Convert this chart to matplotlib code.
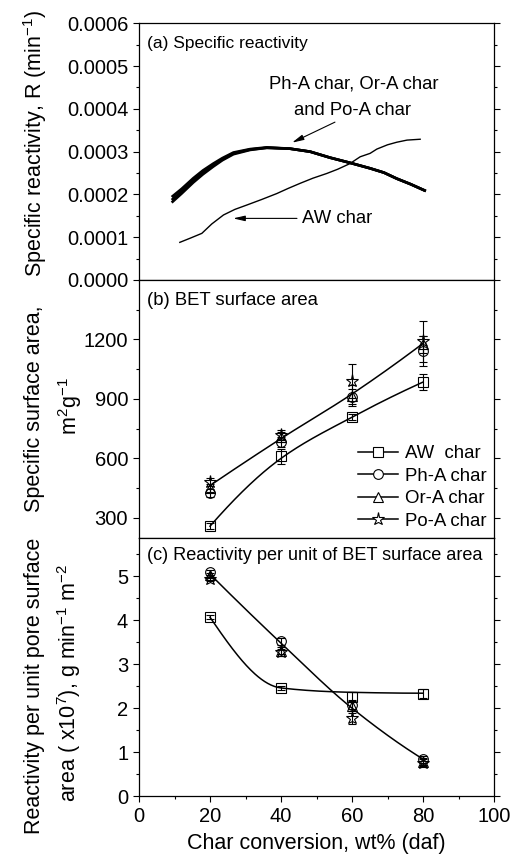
import numpy as np
import matplotlib
matplotlib.use("Agg")
import matplotlib.pyplot as plt
from matplotlib.lines import Line2D
from matplotlib.ticker import FormatStrFormatter

plt.rcParams['font.family'] = ['Liberation Sans', 'DejaVu Sans']
plt.rcParams['mathtext.fontset'] = 'custom'
plt.rcParams['mathtext.rm'] = 'Liberation Sans'
plt.rcParams['mathtext.it'] = 'Liberation Sans:italic'
plt.rcParams['mathtext.default'] = 'regular'

# ---------------- data ----------------
# (a) specific reactivity curves, R (min^-1) vs char conversion (wt%)
conv_acid = [9.2, 12, 15.3, 18, 20.9, 23.5, 26.6, 31.3, 36, 42.5, 48.2, 53.8, 59.4, 65.1, 69, 72.6, 76.5, 80.8]
r_ph = [0.000194, 0.000213, 0.000238, 0.000256, 0.000272, 0.000285, 0.000298, 0.000306, 0.000310, 0.000307, 0.000300, 0.000286, 0.000274, 0.000261, 0.000251, 0.000237, 0.000224, 0.000208]
r_or = [0.000187, 0.000207, 0.000233, 0.000251, 0.000268, 0.000282, 0.000296, 0.000305, 0.000309, 0.000307, 0.000300, 0.000286, 0.000274, 0.000261, 0.000251, 0.000237, 0.000224, 0.000208]
r_po = [0.000181, 0.000202, 0.000228, 0.000247, 0.000265, 0.000280, 0.000294, 0.000304, 0.000309, 0.000307, 0.000300, 0.000286, 0.000274, 0.000261, 0.000251, 0.000237, 0.000224, 0.000208]

conv_aw = [11.5, 14.5, 17.7, 20.5, 23.8, 27, 30.3, 34.5, 38.8, 42, 45.4, 49, 52.9, 56, 59.4, 62.3, 65.1, 67, 70, 72.6, 75.5, 79.2]
r_aw = [0.000088, 0.000098, 0.000109, 0.000131, 0.000152, 0.000165, 0.000175, 0.000188, 0.000202, 0.000214, 0.000226, 0.000238, 0.000249, 0.000259, 0.000272, 0.000288, 0.000296, 0.000306, 0.000316, 0.000322, 0.000327, 0.000329]

# (b) BET specific surface area (m2/g) and (c) reactivity per unit surface area
conversion = [20, 40, 60, 80]
series = ['AW  char', 'Ph-A char', 'Or-A char', 'Po-A char']
markers = ['s', 'o', '^', '*']

bet = {
    'AW  char':  [258, 611, 808, 985],
    'Ph-A char': [427, 683, 912, 1141],
    'Or-A char': [452, 708, 917, 1175],
    'Po-A char': [482, 716, 991, 1190],
}
bet_err = {
    'AW  char':  [14, 38, 15, 42],
    'Ph-A char': [20, 25, 40, 77],
    'Or-A char': [20, 25, 55, 45],
    'Po-A char': [20, 25, 85, 105],
}
bet_fit_aw = [258, 600, 808, 985]
bet_fit_acid = [463, 700, 925, 1180]

rps = {
    'AW  char':  [4.07, 2.46, 2.26, 2.33],
    'Ph-A char': [5.09, 3.52, 2.08, 0.84],
    'Or-A char': [5.02, 3.31, 2.04, 0.78],
    'Po-A char': [4.94, 3.27, 1.77, 0.76],
}
rps_err = {
    'AW  char':  [0.04, 0.04, 0.10, 0.10],
    'Ph-A char': [0.05, 0.08, 0.10, 0.08],
    'Or-A char': [0.05, 0.08, 0.10, 0.08],
    'Po-A char': [0.05, 0.08, 0.12, 0.08],
}
rps_fit_aw = [4.07, 2.46, 2.36, 2.34]
rps_fit_acid = [5.05, 3.48, 2.00, 0.84]

x_ticks = [0, 20, 40, 60, 80, 100]


def pchip(x, y, xn):
    """Shape-preserving piecewise cubic Hermite curve through (x, y)."""
    x = np.asarray(x, float)
    y = np.asarray(y, float)
    h = np.diff(x)
    d = np.diff(y) / h
    n = len(x)
    m = np.zeros(n)
    for k in range(1, n - 1):
        if d[k - 1] * d[k] <= 0:
            m[k] = 0.0
        else:
            w1 = 2 * h[k] + h[k - 1]
            w2 = h[k] + 2 * h[k - 1]
            m[k] = (w1 + w2) / (w1 / d[k - 1] + w2 / d[k])

    def end(h0, h1, d0, d1):
        s = ((2 * h0 + h1) * d0 - h0 * d1) / (h0 + h1)
        if np.sign(s) != np.sign(d0):
            s = 0.0
        elif np.sign(d0) != np.sign(d1) and abs(s) > abs(3 * d0):
            s = 3 * d0
        return s

    m[0] = end(h[0], h[1], d[0], d[1])
    m[-1] = end(h[-1], h[-2], d[-1], d[-2])
    xn = np.asarray(xn, float)
    idx = np.clip(np.searchsorted(x, xn) - 1, 0, n - 2)
    t = (xn - x[idx]) / h[idx]
    h00 = 2 * t**3 - 3 * t**2 + 1
    h10 = t**3 - 2 * t**2 + t
    h01 = -2 * t**3 + 3 * t**2
    h11 = t**3 - t**2
    return h00 * y[idx] + h10 * h[idx] * m[idx] + h01 * y[idx + 1] + h11 * h[idx] * m[idx + 1]


# ---------------- figure ----------------
W, H = 512, 856
fig = plt.figure(figsize=(W / 100, H / 100), dpi=100)
left, width = 139 / W, 355 / W
axa = fig.add_axes([left, 1 - 280 / H, width, 256.7 / H])
axb = fig.add_axes([left, 1 - 537.7 / H, width, 257.7 / H])
axc = fig.add_axes([left, 1 - 796 / H, width, 258.3 / H])

TICK_FS = 14.5
LABEL_FS = 15.5

for ax in (axa, axb, axc):
    ax.set_xlim(0, 100)
    for sp in ax.spines.values():
        sp.set_linewidth(0.9)
    ax.tick_params(axis='y', which='both', direction='out', left=True, right=True,
                   labelsize=TICK_FS, width=0.8, pad=3.5)
    ax.tick_params(axis='y', which='major', length=4.3)
    ax.tick_params(axis='y', which='minor', length=2.0)
    ax.set_xticks(x_ticks)
    ax.set_xticks([10, 30, 50, 70, 90], minor=True)

for ax in (axa, axb):
    ax.tick_params(axis='x', which='both', bottom=False, labelbottom=False)

axc.tick_params(axis='x', which='both', direction='out', labelsize=TICK_FS, width=0.8, pad=3.5)
axc.tick_params(axis='x', which='major', length=4.3)
axc.tick_params(axis='x', which='minor', length=2.0)

# ---- (a) specific reactivity ----
axa.set_ylim(0, 0.0006)
axa.set_yticks(np.arange(0, 0.00061, 0.0001))
axa.set_yticks(np.arange(0.00005, 0.0006, 0.0001), minor=True)
axa.yaxis.set_major_formatter(FormatStrFormatter('%.4f'))
for r in (r_ph, r_or, r_po):
    axa.plot(conv_acid, r, color='k', lw=1.9, solid_capstyle='butt')
axa.plot(conv_aw, r_aw, color='k', lw=1.0)
axa.text(0.0225, 0.923, '(a) Specific reactivity', transform=axa.transAxes,
         fontsize=12.5, ha='left', va='center')
axa.text(60.4, 0.000458, 'Ph-A char, Or-A char', fontsize=13.3, ha='center', va='center')
axa.text(60.1, 0.000396, 'and Po-A char', fontsize=13.3, ha='center', va='center')
arrow = dict(arrowstyle='-|>,head_length=0.7,head_width=0.16', color='k', lw=0.8,
             shrinkA=0, shrinkB=0)
axa.annotate('', xy=(43.1, 0.000321), xytext=(55.2, 0.000369), arrowprops=arrow)
axa.text(55.9, 0.000144, 'AW char', fontsize=13.3, ha='center', va='center')
axa.annotate('', xy=(26.5, 0.000144), xytext=(44.5, 0.000144), arrowprops=arrow)

# ---- (b) BET surface area ----
axb.set_ylim(200, 1500)
axb.set_yticks([300, 600, 900, 1200])
axb.set_yticks([450, 750, 1050, 1350], minor=True)
xs = np.linspace(20, 80, 200)
axb.plot(xs, pchip(conversion, bet_fit_aw, xs), color='k', lw=1.1)
axb.plot(xs, pchip(conversion, bet_fit_acid, xs), color='k', lw=1.1)
msize = {'s': 6.5, 'o': 7, '^': 7.5, '*': 9.5}
for s, mk in zip(series, markers):
    axb.errorbar(conversion, bet[s], yerr=bet_err[s], fmt=mk, ms=msize[mk], mfc='none',
                 mec='k', mew=0.8, ecolor='k', elinewidth=0.8, capsize=2.6, capthick=0.8)
axb.text(0.0225, 0.92, '(b) BET surface area', transform=axb.transAxes,
         fontsize=13.3, ha='left', va='center')
handles = [Line2D([], [], color='k', lw=1.1, marker=mk, ms=msize[mk], mfc='white',
                  mec='k', mew=0.8) for mk in markers]
axb.legend(handles, series, loc='lower left', bbox_to_anchor=(0.617, 0.03),
           frameon=False, fontsize=13.4, handlelength=2.15, handletextpad=0.35,
           labelspacing=0.3, borderpad=0, borderaxespad=0)

# ---- (c) reactivity per unit surface area ----
axc.set_ylim(0, 5.88)
axc.set_yticks([0, 1, 2, 3, 4, 5])
axc.set_yticks([0.5, 1.5, 2.5, 3.5, 4.5, 5.5], minor=True)
axc.plot(xs, pchip(conversion, rps_fit_aw, xs), color='k', lw=1.1)
axc.plot(xs, pchip(conversion, rps_fit_acid, xs), color='k', lw=1.1)
for s, mk in zip(series, markers):
    axc.errorbar(conversion, rps[s], yerr=rps_err[s], fmt=mk, ms=msize[mk], mfc='none',
                 mec='k', mew=0.8, ecolor='k', elinewidth=0.8, capsize=2.6, capthick=0.8)
axc.text(0.0225, 0.933, '(c) Reactivity per unit of BET surface area', transform=axc.transAxes,
         fontsize=13.1, ha='left', va='center')

# ---- axis titles ----
fig.text(35 / W, 1 - 143.5 / H, 'Specific reactivity, R (min$^{-1}$)', rotation=90,
         ha='center', va='center', fontsize=LABEL_FS)
fig.text(35 / W, 1 - 409 / H, 'Specific surface area,', rotation=90,
         ha='center', va='center', fontsize=LABEL_FS)
fig.text(70 / W, 1 - 406 / H, 'm$^{2}$g$^{-1}$', rotation=90,
         ha='center', va='center', fontsize=LABEL_FS)
fig.text(35 / W, 1 - 686 / H, 'Reactivity per unit pore surface', rotation=90,
         ha='center', va='center', fontsize=LABEL_FS)
fig.text(69 / W, 1 - 683 / H, 'area ( x10$^{7}$), g min$^{-1}$ m$^{-2}$', rotation=90,
         ha='center', va='center', fontsize=LABEL_FS)
fig.text(316.5 / W, 1 - 844 / H, 'Char conversion, wt% (daf)',
         ha='center', va='center', fontsize=LABEL_FS)

fig.savefig('out.png', dpi=100)
